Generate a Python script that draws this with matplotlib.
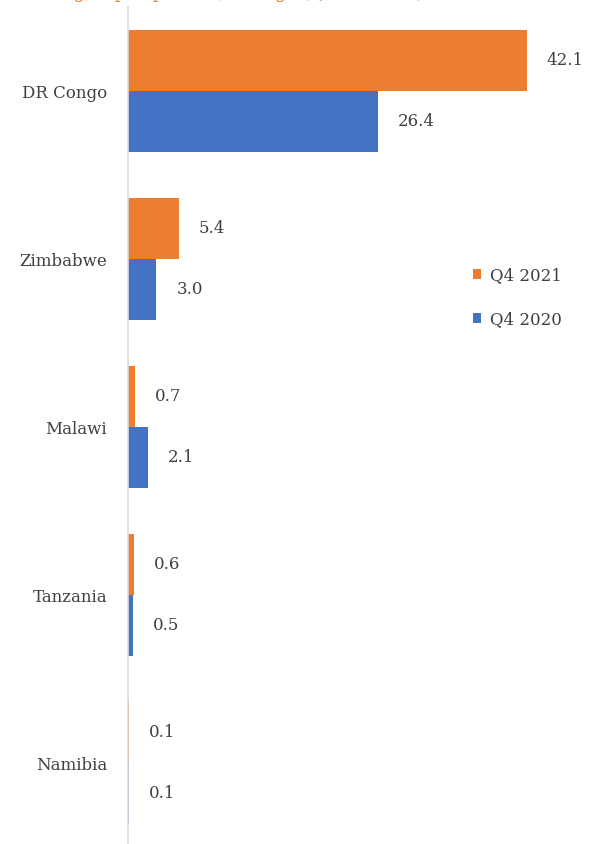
import numpy as np
import matplotlib
matplotlib.use("Agg")
import matplotlib.pyplot as plt

countries = ["DR Congo", "Zimbabwe", "Malawi", "Tanzania", "Namibia"]
q4_2021 = [42.1, 5.4, 0.7, 0.6, 0.1]
q4_2020 = [26.4, 3.0, 2.1, 0.5, 0.1]

orange = "#ED7D31"
blue = "#4472C4"
text_col = "#404040"

plt.rcParams["font.family"] = ["DejaVu Serif"]

W, H = 589, 844
fig = plt.figure(figsize=(W / 100, H / 100), dpi=100)
# axes placed in pixel terms: left edge at x=128, top at y=7
left, right = 128, 554.5
top, bottom = 7, 847
ax = fig.add_axes([left / W, (H - bottom) / H, (right - left) / W, (bottom - top) / H])

y = np.arange(len(countries))
bh = 0.363
b1 = ax.barh(y - bh / 2, q4_2021, height=bh, color=orange, label="Q4 2021")
b2 = ax.barh(y + bh / 2, q4_2020, height=bh, color=blue, label="Q4 2020")

ax.set_xlim(0, 45)
ax.set_ylim(len(countries) - 0.5, -0.5)
ax.set_yticks(y)
ax.set_yticklabels(countries, fontsize=12, color=text_col)
ax.tick_params(axis="y", length=0, pad=15)
ax.set_xticks([])
for s in ["top", "right", "bottom"]:
    ax.spines[s].set_visible(False)
ax.spines["left"].set_color("#D9D9D9")
ax.spines["left"].set_linewidth(1.2)
ax.set_facecolor("white")

for bars, vals in [(b1, q4_2021), (b2, q4_2020)]:
    for bar, v in zip(bars, vals):
        ax.annotate(f"{v:.1f}", (bar.get_width(), bar.get_y() + bar.get_height() / 2),
                    xytext=(14.3, 0), textcoords="offset points", ha="left", va="center",
                    fontsize=12, color=text_col)

leg = fig.legend(handles=[b1, b2], loc="upper left", bbox_to_anchor=(458 / W, 1 - 252 / H),
                 frameon=False, handlelength=0.5, handleheight=0.5, handletextpad=0.5,
                 labelspacing=1.6, fontsize=12, labelcolor=text_col)

# title cut off at the top edge, only the descenders show
fig.text(20 / W, 1 + 1.5 / H, "Mining, top exporters, change (Q4 2020-21)",
         ha="left", va="baseline", fontsize=13, color=orange)

fig.savefig("out.png", dpi=100)
